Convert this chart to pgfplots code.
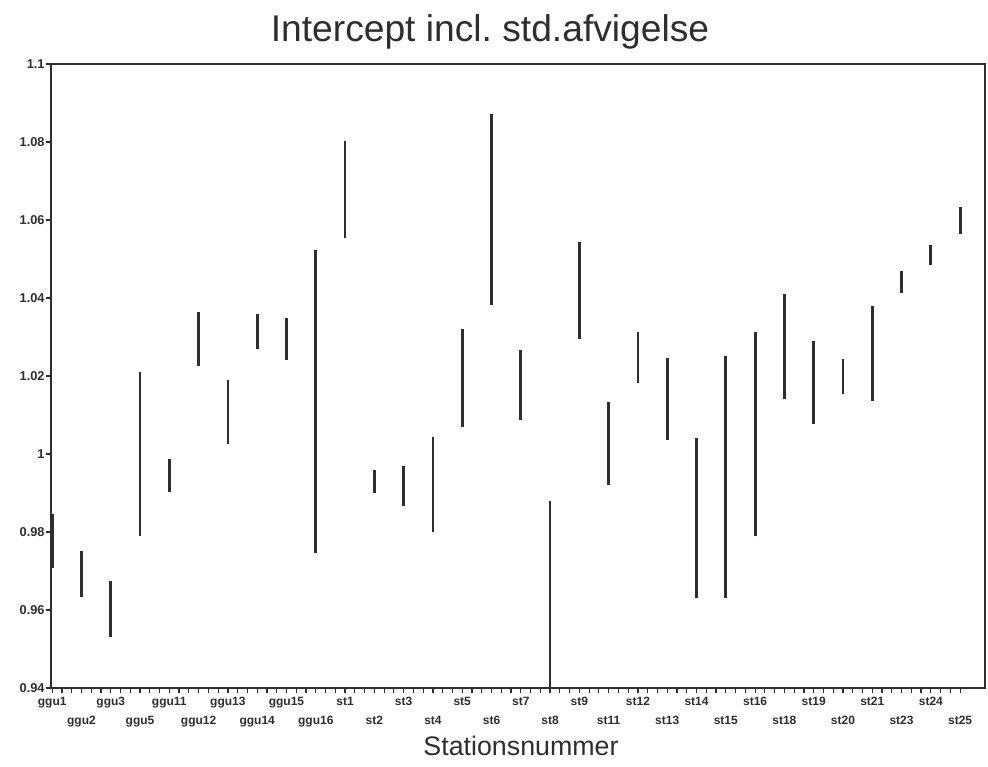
\documentclass[border=0pt]{standalone}
\usepackage{pgfplots}
\pgfplotsset{compat=1.18}
\usepackage{pgfplotstable}
\usepackage{fontspec}
\setmainfont{Liberation Sans}
\definecolor{ink}{HTML}{2E2E2E}
\pgfplotstableread{
x lo hi
0 0.9707 0.9847
1 0.9633 0.9752
2 0.9531 0.9674
3 0.9789 1.0210
4 0.9903 0.9986
5 1.0225 1.0363
6 1.0025 1.0190
7 1.0269 1.0360
8 1.0241 1.0348
9 0.9747 1.0522
10 1.0554 1.0802
11 0.9901 0.9959
12 0.9867 0.9969
13 0.9799 1.0043
14 1.0069 1.0320
15 1.0381 1.0872
16 1.0088 1.0267
17 0.9400 0.9880
18 1.0295 1.0544
19 0.9921 1.0134
20 1.0183 1.0312
21 1.0037 1.0246
22 0.9630 1.0042
23 0.9630 1.0252
24 0.9789 1.0312
25 1.0140 1.0410
26 1.0078 1.0290
27 1.0155 1.0243
28 1.0135 1.0379
29 1.0412 1.0470
30 1.0485 1.0537
31 1.0564 1.0634
}\datatable
\begin{document}
\frenchspacing
\begin{tikzpicture}
\path[use as bounding box] (-25.5pt,-39pt) rectangle (468.5pt,344pt);
\begin{axis}[
  at={(0,0)}, anchor=south west,
  scale only axis, width=467pt, height=312pt,
  xmin=-0.04, xmax=31.85, ymin=0.94, ymax=1.1,
  axis line style={draw=ink, line width=0.9pt},
  tick style={draw=ink, line width=0.6pt},
  tick align=outside,
  xtick pos=bottom, ytick pos=left,
  major tick length=2.5pt, minor tick length=2.5pt,
  xtick={0,...,31}, minor x tick num=2,
  xticklabels={ggu1,\raisebox{-9.5pt}{ggu2},ggu3,\raisebox{-9.5pt}{ggu5},ggu11,\raisebox{-9.5pt}{ggu12},ggu13,\raisebox{-9.5pt}{ggu14},ggu15,\raisebox{-9.5pt}{ggu16},st1,\raisebox{-9.5pt}{st2},st3,\raisebox{-9.5pt}{st4},st5,\raisebox{-9.5pt}{st6},st7,\raisebox{-9.5pt}{st8},st9,\raisebox{-9.5pt}{st11},st12,\raisebox{-9.5pt}{st13},st14,\raisebox{-9.5pt}{st15},st16,\raisebox{-9.5pt}{st18},st19,\raisebox{-9.5pt}{st20},st21,\raisebox{-9.5pt}{st23},st24,\raisebox{-9.5pt}{st25}},
  xticklabel style={font=\fontsize{6}{6.5}\selectfont\bfseries, text=ink, anchor=base, yshift=-6pt},
  ytick={0.94,0.96,0.98,1,1.02,1.04,1.06,1.08,1.1},
  yticklabels={0.94,0.96,0.98,1,1.02,1.04,1.06,1.08,1.1},
  yticklabel style={font=\fontsize{6.4}{7}\selectfont\bfseries, text=ink, inner xsep=0.5pt},
  /pgf/number format/assume math mode=true,
  clip=false,
]
\addplot[draw=none, mark=none,
  error bars/.cd, y dir=plus, y explicit, error mark=none,
  error bar style={draw=ink, line width=1.4pt}]
  table[x=x, y=lo, y error expr=\thisrow{hi}-\thisrow{lo}] {\datatable};
\end{axis}
\node[anchor=base, font=\fontsize{18.6}{20}\selectfont, text=ink] at (219.5pt,323pt) {Intercept incl. std.afvigelse};
\node[anchor=base, font=\fontsize{13.4}{15}\selectfont, text=ink] at (235pt,-33.5pt) {Stationsnummer};
\end{tikzpicture}
\end{document}
